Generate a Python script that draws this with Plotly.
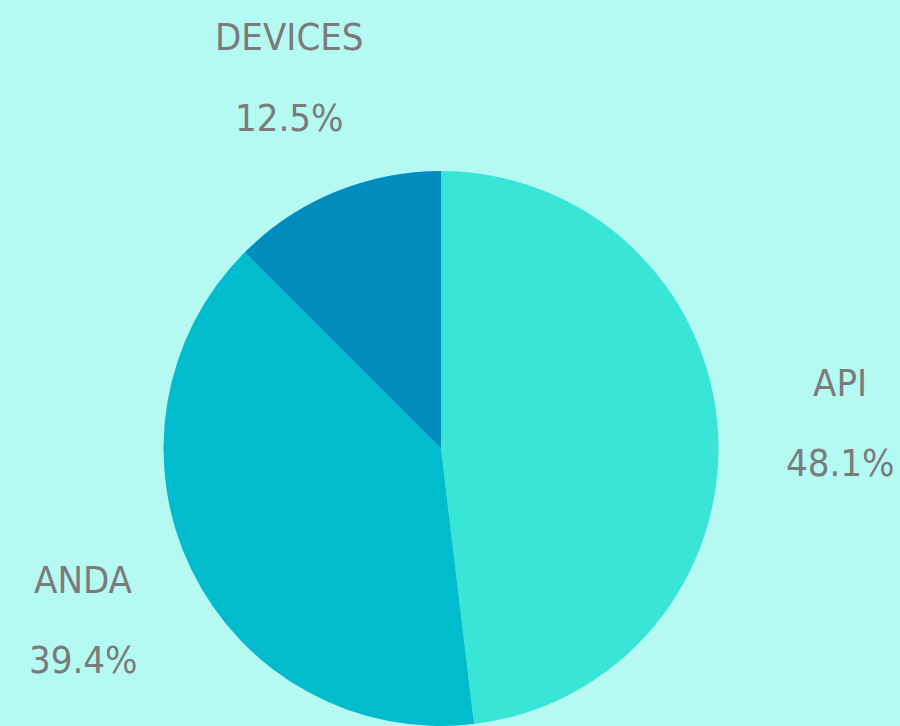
import plotly.graph_objects as go

categories = ["API", "ANDA", "DEVICES"]
values = [48.1, 39.4, 12.5]
colors = ["#38e5d6", "#00bccc", "#008dbd"]

# label anchor positions in pixels (centre x, centre of name line, centre of percent line)
label_pos = {
    "API": (840, 383, 463),
    "ANDA": (83, 580, 660),
    "DEVICES": (289, 37, 118),
}

W, H = 900, 726
font_family = "Liberation Sans Narrow, DejaVu Sans Condensed, Roboto, sans-serif"
text_color = "#7b7b7b"

fig = go.Figure(
    go.Pie(
        labels=categories,
        values=values,
        sort=False,
        direction="clockwise",
        rotation=0,
        marker=dict(colors=colors, line=dict(width=0)),
        textinfo="none",
        hoverinfo="label+percent",
        domain=dict(x=[(441 - 278) / W, (441 + 278) / W], y=[0, 555 / H]),
        showlegend=False,
    )
)

total = sum(values)
annotations = []
for cat, val in zip(categories, values):
    x, y1, y2 = label_pos[cat]
    for txt, yy in ((cat, y1), (f"{val / total * 100:.1f}%", y2)):
        annotations.append(
            dict(
                text=txt,
                x=x / W,
                y=1 - yy / H,
                xref="paper",
                yref="paper",
                xanchor="center",
                yanchor="middle",
                showarrow=False,
                font=dict(family=font_family, size=38, color=text_color),
            )
        )

fig.update_layout(
    width=W,
    height=H,
    margin=dict(l=0, r=0, t=0, b=0),
    paper_bgcolor="#b5f9f3",
    plot_bgcolor="#b5f9f3",
    annotations=annotations,
)

fig.write_html(
    "out.html",
    config={"displayModeBar": False},
    post_script="document.body.style.margin='0';document.body.style.background='#b5f9f3';",
)
